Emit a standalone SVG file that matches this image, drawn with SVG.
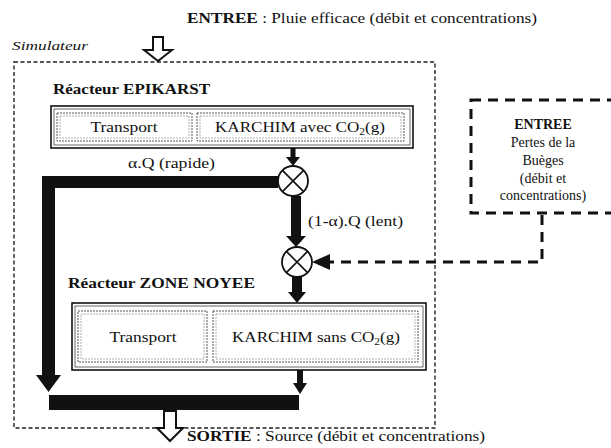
<svg xmlns="http://www.w3.org/2000/svg" width="611" height="448" viewBox="0 0 611 448" font-family="'Liberation Serif','Times New Roman',serif">
<defs>
<style>
text{font-family:"Liberation Serif","Times New Roman",serif;fill:#111;}
.b{font-weight:bold;}
.sim{fill:none;stroke:#222;stroke-width:1.4;stroke-dasharray:4 2.5;}
.big{fill:none;stroke:#111;stroke-width:3;stroke-dasharray:10 7;}
.ob{fill:none;stroke:#111;stroke-width:1.6;}
.oi{fill:none;stroke:#444;stroke-width:0.8;}
.ib{fill:none;stroke:#555;stroke-width:1;stroke-dasharray:2 1;}
.ii{fill:none;stroke:#999;stroke-width:0.8;stroke-dasharray:2 1;}
.circ{fill:#fff;stroke:#111;stroke-width:1.8;}
.thick{fill:#111;stroke:none;}
.hollow{fill:#fff;stroke:#111;stroke-width:2;stroke-linejoin:miter;}
</style>
</defs>

<g id="simulateur">
<rect class="sim" x="14" y="62" width="421" height="366"/>
<text x="12" y="50" font-size="13" font-style="italic" textLength="76" lengthAdjust="spacingAndGlyphs">Simulateur</text>
</g>

<g id="entree-pluie">
<text x="187" y="23" font-size="15" textLength="350" lengthAdjust="spacingAndGlyphs"><tspan class="b">ENTREE</tspan> : Pluie efficace (débit et concentrations)</text>
</g>

<g id="reacteur-epikarst">
<text class="b" x="53" y="94" font-size="15" textLength="157" lengthAdjust="spacingAndGlyphs">Réacteur EPIKARST</text>
<rect class="ob" x="51" y="106" width="362" height="42"/>
<rect class="oi" x="54" y="109" width="356" height="36"/>
<g id="epi-transport">
<rect class="ib" x="57" y="113" width="135" height="28"/>
<rect class="ii" x="60" y="116" width="129" height="22"/>
<text x="124" y="132" text-anchor="middle" font-size="15" textLength="67" lengthAdjust="spacingAndGlyphs">Transport</text>
</g>
<g id="epi-karchim">
<rect class="ib" x="197" y="113" width="207" height="28"/>
<rect class="ii" x="200" y="116" width="201" height="22"/>
<text x="215" y="132" font-size="15" textLength="170" lengthAdjust="spacingAndGlyphs">KARCHIM avec CO<tspan font-size="10" dy="3">2</tspan><tspan dy="-3">(g)</tspan></text>
</g>
</g>

<g id="melange1">
<circle class="circ" cx="293" cy="181" r="15"/>
<path d="M282.4 170.4 L303.6 191.6 M303.6 170.4 L282.4 191.6" stroke="#111" stroke-width="1.6"/>
</g>

<g id="melange2">
<circle class="circ" cx="297" cy="262" r="15"/>
<path d="M286.4 251.4 L307.6 272.6 M307.6 251.4 L286.4 272.6" stroke="#111" stroke-width="1.6"/>
</g>

<g id="entree-pertes">
<rect class="big" x="471" y="100" width="160" height="113"/>
<text class="b" x="543" y="129" font-size="14" text-anchor="middle">ENTREE</text>
<text x="543" y="147" font-size="14" text-anchor="middle">Pertes de la</text>
<text x="543" y="165" font-size="14" text-anchor="middle">Buèges</text>
<text x="543" y="183" font-size="14" text-anchor="middle">(débit et</text>
<text x="543" y="200" font-size="14" text-anchor="middle">concentrations)</text>
</g>

<g id="reacteur-zone-noyee">
<text class="b" x="68" y="288" font-size="15" textLength="187" lengthAdjust="spacingAndGlyphs">Réacteur ZONE NOYEE</text>
<rect class="ob" x="72" y="303" width="354" height="67"/>
<rect class="oi" x="75" y="306" width="348" height="61"/>
<g id="zn-transport">
<rect class="ib" x="78" y="311" width="129" height="51"/>
<rect class="ii" x="81" y="314" width="123" height="45"/>
<text x="143" y="342" text-anchor="middle" font-size="15" textLength="67" lengthAdjust="spacingAndGlyphs">Transport</text>
</g>
<g id="zn-karchim">
<rect class="ib" x="213" y="311" width="205" height="51"/>
<rect class="ii" x="216" y="314" width="199" height="45"/>
<text x="232" y="342" font-size="15" textLength="168" lengthAdjust="spacingAndGlyphs">KARCHIM sans CO<tspan font-size="10" dy="3">2</tspan><tspan dy="-3">(g)</tspan></text>
</g>
</g>

<g id="sortie">
<text x="187" y="441" font-size="15" textLength="298" lengthAdjust="spacingAndGlyphs"><tspan class="b">SORTIE</tspan> : Source (débit et concentrations)</text>
</g>

<g id="connectors">
<!-- top hollow arrow -->
<path class="hollow" d="M153 37 L163 37 L163 50 L172 50 L158 61 L144 50 L153 50 Z"/>
<!-- epikarst to mix1 -->
<path class="thick" d="M290.5 148 L295.5 148 L295.5 157 L300 157 L293 166 L286 157 L290.5 157 Z"/>
<!-- alpha Q rapid bypass -->
<path class="thick" d="M278 176 L278 188 L55 188 L55 375 L61 375 L48.5 392 L36 375 L42 375 L42 176 Z"/>
<text x="128" y="168" font-size="14" textLength="87" lengthAdjust="spacingAndGlyphs">α.Q (rapide)</text>
<!-- mix1 to mix2 -->
<path class="thick" d="M291 196 L301 196 L301 236 L306 236 L296 247 L286 236 L291 236 Z"/>
<text x="308" y="226" font-size="14" textLength="95" lengthAdjust="spacingAndGlyphs">(1-α).Q (lent)</text>
<!-- pertes dashed -->
<path class="big" d="M542 215 L542 262 L329 262"/>
<path class="thick" d="M312 262 L330 254 L330 270 Z"/>
<!-- mix2 to zone noyee -->
<path class="thick" d="M292 277 L302 277 L302 292 L306 292 L297 303 L288 292 L292 292 Z"/>
<!-- zone noyee out -->
<path class="thick" d="M297 370 L303 370 L303 383 L307 383 L300 394 L293 383 L297 383 Z"/>
<!-- bottom bar -->
<rect class="thick" x="49" y="395" width="250" height="15"/>
<!-- bottom hollow arrow -->
<path class="hollow" d="M164 411 L176 411 L176 428 L183 428 L170 441 L157 428 L164 428 Z"/>
</g>
</svg>
